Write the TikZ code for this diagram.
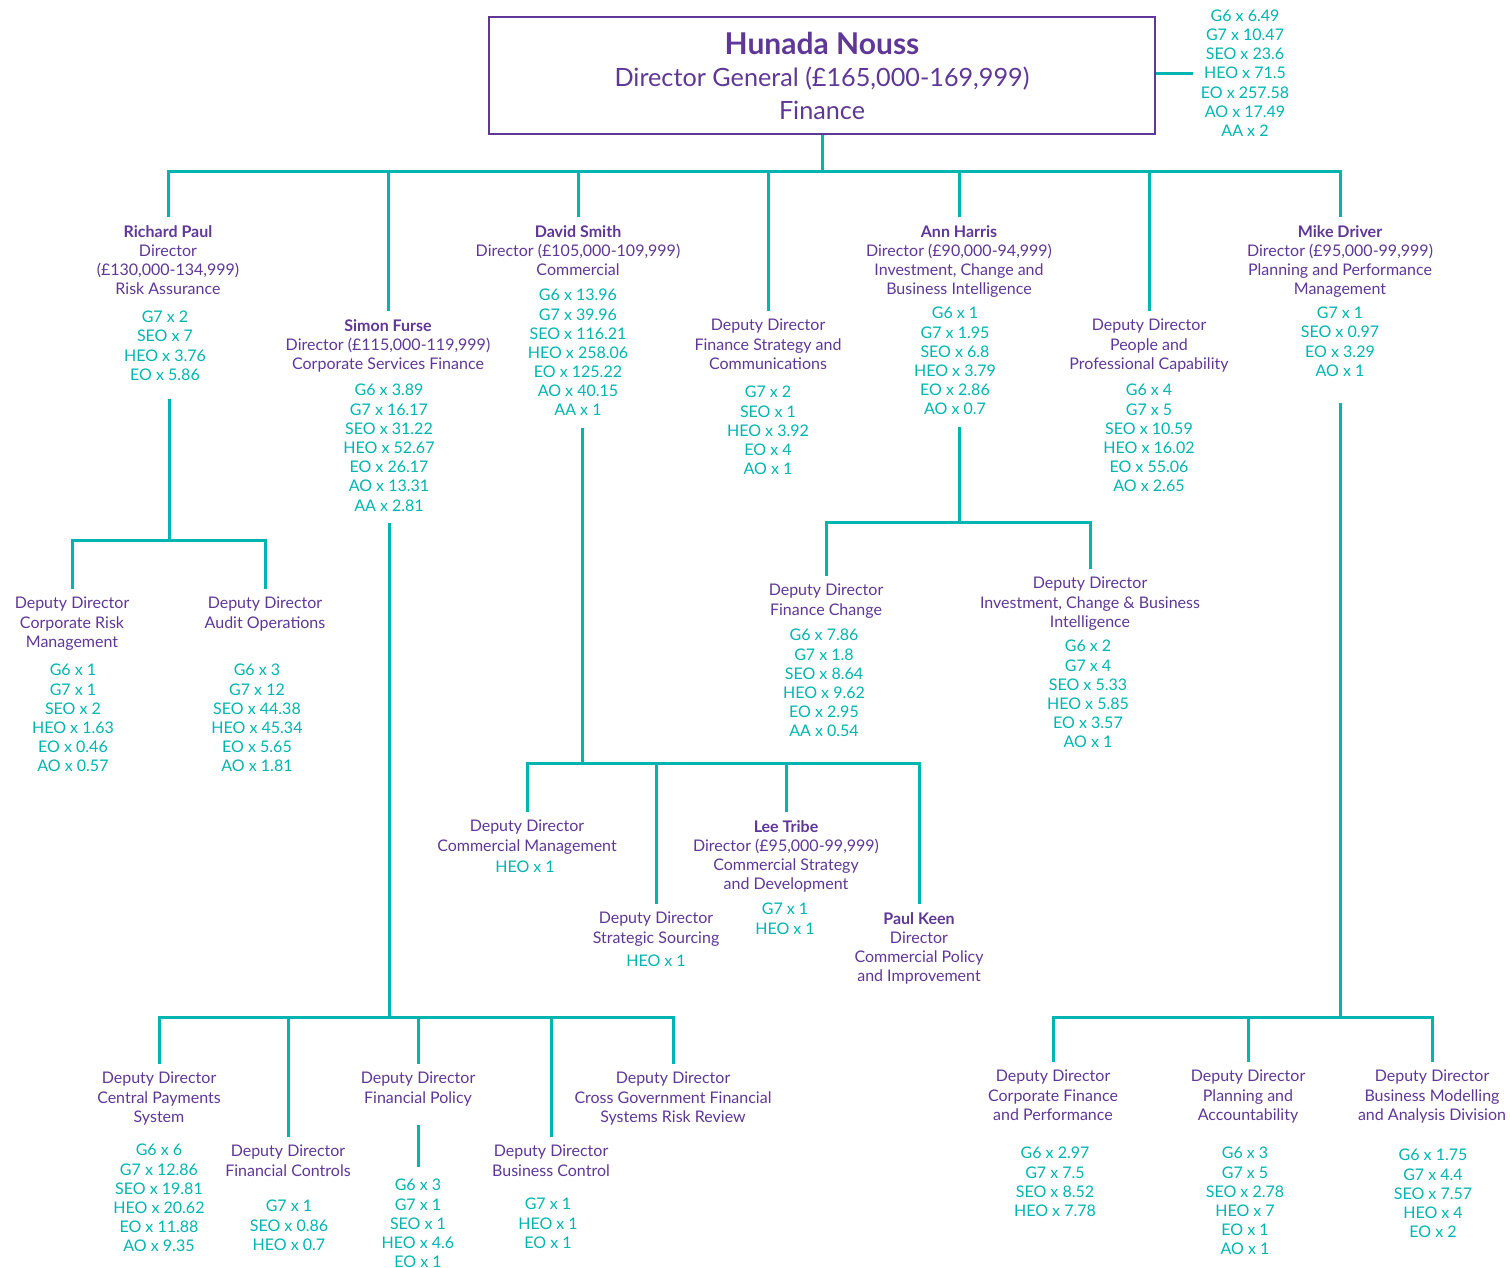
\documentclass[tikz,border=0pt]{standalone}
\usepackage{fontspec}
\setmainfont{Lato}
\usepackage{tikz}
\definecolor{ddpurple}{RGB}{95,55,150}
\definecolor{ddteal}{RGB}{0,181,176}

\begin{document}
\begin{tikzpicture}[x=1pt,y=-1pt,
  nodes={font=\fontsize{16}{19.2}\selectfont,align=center,inner sep=0pt},
  post/.style={text=ddpurple,anchor=north,outer ysep=8pt},
  grades/.style={text=ddteal,anchor=north,outer ysep=12pt},
  link/.style={ddteal,line width=3pt}]
\useasboundingbox (0,0) rectangle (1510,1267);
\def\tup{13.8} %first line centre to north of a post
\def\gup{17.8}
% director general
\node[draw=ddpurple,line width=2.8pt,minimum width=666pt,minimum height=117pt,text=ddpurple,
  font=\fontsize{25.2}{32.5}\selectfont] (dg) at (822,75.5)
  {{\fontsize{30}{32.5}\selectfont\bfseries Hunada Nouss}\\Director General (£165,000-169,999)\\Finance};
\node[grades,anchor=center,outer xsep=8pt] (dg-n) at (1245,73)
  {G6 x 6.49\\G7 x 10.47\\SEO x 23.6\\HEO x 71.5\\EO x 257.58\\AO x 17.49\\AA x 2};
% directors
\node[post] (rp) at (168,231-\tup) {\textbf{Richard Paul}\\Director\\(£130,000-134,999)\\Risk Assurance};
\node[grades] (rp-n) at (165,317-\gup) {G7 x 2\\SEO x 7\\HEO x 3.76\\EO x 5.86};
\node[post] (sf) at (388,325-\tup) {\textbf{Simon Furse}\\Director (£115,000-119,999)\\Corporate Services Finance};
\node[grades] (sf-n) at (389,390-\gup) {G6 x 3.89\\G7 x 16.17\\SEO x 31.22\\HEO x 52.67\\EO x 26.17\\AO x 13.31\\AA x 2.81};
\node[post] (ds) at (578,231-\tup) {\textbf{David Smith}\\Director (£105,000-109,999)\\Commercial};
\node[grades] (ds-n) at (578,295-\gup) {G6 x 13.96\\G7 x 39.96\\SEO x 116.21\\HEO x 258.06\\EO x 125.22\\AO x 40.15\\AA x 1};
\node[post] (fs) at (768,325-\tup) {Deputy Director\\Finance Strategy and\\Communications};
\node[grades] (fs-n) at (768,392-\gup) {G7 x 2\\SEO x 1\\HEO x 3.92\\EO x 4\\AO x 1};
\node[post] (ah) at (959,231-\tup) {\textbf{Ann Harris}\\Director (£90,000-94,999)\\Investment, Change and\\Business Intelligence};
\node[grades] (ah-n) at (955,313-\gup) {G6 x 1\\G7 x 1.95\\SEO x 6.8\\HEO x 3.79\\EO x 2.86\\AO x 0.7};
\node[post] (pp) at (1149,325-\tup) {Deputy Director\\People and\\Professional Capability};
\node[grades] (pp-n) at (1149,390-\gup) {G6 x 4\\G7 x 5\\SEO x 10.59\\HEO x 16.02\\EO x 55.06\\AO x 2.65};
\node[post] (md) at (1340,231-\tup) {\textbf{Mike Driver}\\Director (£95,000-99,999)\\Planning and Performance\\Management};
\node[grades] (md-n) at (1340,313-\gup) {G7 x 1\\SEO x 0.97\\EO x 3.29\\AO x 1};
% risk assurance
\node[post] (crm) at (72,603-\tup) {Deputy Director\\Corporate Risk\\Management};
\node[grades] (crm-n) at (73,670-\gup) {G6 x 1\\G7 x 1\\SEO x 2\\HEO x 1.63\\EO x 0.46\\AO x 0.57};
\node[post] (ao) at (265,603-\tup) {Deputy Director\\Audit Operations};
\node[grades] (ao-n) at (257,670-\gup) {G6 x 3\\G7 x 12\\SEO x 44.38\\HEO x 45.34\\EO x 5.65\\AO x 1.81};
% investment, change and business intelligence
\node[post] (fc) at (826,590-\tup) {Deputy Director\\Finance Change};
\node[grades] (fc-n) at (824,635-\gup) {G6 x 7.86\\G7 x 1.8\\SEO x 8.64\\HEO x 9.62\\EO x 2.95\\AA x 0.54};
\node[post] (ic) at (1090,583-\tup) {Deputy Director\\Investment, Change \& Business\\Intelligence};
\node[grades] (ic-n) at (1088,646-\gup) {G6 x 2\\G7 x 4\\SEO x 5.33\\HEO x 5.85\\EO x 3.57\\AO x 1};
% commercial
\node[post] (cm) at (527,826-\tup) {Deputy Director\\Commercial Management};
\node[grades] (cm-n) at (525,867-\gup) {HEO x 1};
\node[post] (ss) at (656,918-\tup) {Deputy Director\\Strategic Sourcing};
\node[grades] (ss-n) at (656,961-\gup) {HEO x 1};
\node[post] (lt) at (786,826-\tup) {\textbf{Lee Tribe}\\Director (£95,000-99,999)\\Commercial Strategy\\and Development};
\node[grades] (lt-n) at (785,909-\gup) {G7 x 1\\HEO x 1};
\node[post] (pk) at (919,918-\tup) {\textbf{Paul Keen}\\Director\\Commercial Policy\\and Improvement};
% corporate services finance
\node[post] (cp) at (159,1078-\tup) {Deputy Director\\Central Payments\\System};
\node[grades] (cp-n) at (159,1150-\gup) {G6 x 6\\G7 x 12.86\\SEO x 19.81\\HEO x 20.62\\EO x 11.88\\AO x 9.35};
\node[post] (fctl) at (288,1151-\tup) {Deputy Director\\Financial Controls};
\node[grades] (fctl-n) at (289,1206-\gup) {G7 x 1\\SEO x 0.86\\HEO x 0.7};
\node[post] (fp) at (418,1078-\tup) {Deputy Director\\Financial Policy};
\node[grades] (fp-n) at (418,1185-\gup) {G6 x 3\\G7 x 1\\SEO x 1\\HEO x 4.6\\EO x 1};
\node[post] (bc) at (551,1151-\tup) {Deputy Director\\Business Control};
\node[grades] (bc-n) at (548,1204-\gup) {G7 x 1\\HEO x 1\\EO x 1};
\node[post] (cg) at (673,1078-\tup) {Deputy Director\\Cross Government Financial\\Systems Risk Review};
% planning and performance management
\node[post] (cf) at (1053,1076-\tup) {Deputy Director\\Corporate Finance\\and Performance};
\node[grades] (cf-n) at (1055,1153-\gup) {G6 x 2.97\\G7 x 7.5\\SEO x 8.52\\HEO x 7.78};
\node[post] (pa) at (1248,1076-\tup) {Deputy Director\\Planning and\\Accountability};
\node[grades] (pa-n) at (1245,1153-\gup) {G6 x 3\\G7 x 5\\SEO x 2.78\\HEO x 7\\EO x 1\\AO x 1};
\node[post] (bm) at (1432,1076-\tup) {Deputy Director\\Business Modelling\\and Analysis Division};
\node[grades] (bm-n) at (1433,1155-\gup) {G6 x 1.75\\G7 x 4.4\\SEO x 7.57\\HEO x 4\\EO x 2};
% bus bars
\coordinate (b1) at (822,171);
\coordinate (b2) at (169,540);
\coordinate (b3) at (959,522);
\coordinate (b4) at (582,763);
\coordinate (b5) at (389,1017);
\coordinate (b6) at (1340,1017);
\draw[link] (dg.east |- dg-n.west) -- (dg-n.west);
\draw[link] (dg.south) -- (b1);
\draw[link] (rp.north) |- (b1) -| (md.north);
\foreach \n in {sf,ds,fs,ah,pp}
\draw[link] (\n.north) -- (\n.north |- b1);
\draw[link,shorten <=6pt] (rp-n.south -| b2) -- (b2);
\draw[link] (crm.north) |- (b2) -| (ao.north);
\draw[link] (ah-n.south -| b3) -- (b3);
\draw[link] (fc.north) |- (b3) -| (ic.north);
\draw[link] (ds-n.south -| b4) -- (b4);
\draw[link] (cm.north) |- (b4) -| (pk.north);
\foreach \n in {ss,lt}
\draw[link] (\n.north) -- (\n.north |- b4);
\draw[link] (sf-n.south -| b5) -- (b5);
\draw[link] (cp.north) |- (b5) -| (cg.north);
\foreach \n in {fctl,fp,bc}
\draw[link] (\n.north) -- (\n.north |- b5);
\draw[link,shorten <=11pt] (fp.south) -- (fp-n.north);
\draw[link,shorten <=14pt] (md-n.south -| b6) -- (b6);
\draw[link] (cf.north) |- (b6) -| (bm.north);
\draw[link] (pa.north) -- (pa.north |- b6);
\end{tikzpicture}
\end{document}
